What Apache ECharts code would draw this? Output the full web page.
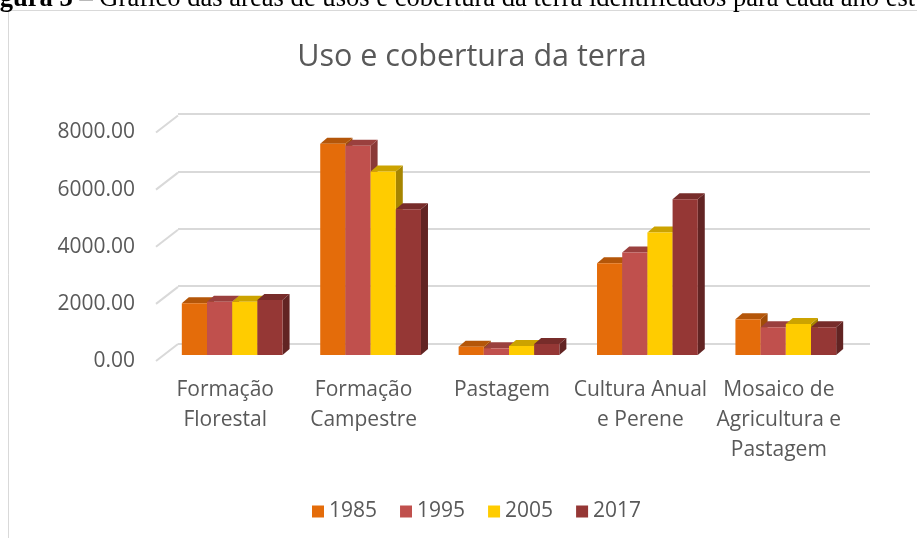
<!DOCTYPE html>
<html><head><meta charset="utf-8">
<script src="https://cdn.jsdelivr.net/npm/echarts@6/dist/echarts.min.js"></script>
<style>html,body{margin:0;padding:0;background:#fff}#c{width:917px;height:538px}</style>
</head><body><div id="c"></div>
<script>
const categories = ['Formação\nFlorestal', 'Formação\nCampestre', 'Pastagem', 'Cultura Anual\ne Perene', 'Mosaico de\nAgricultura e\nPastagem'];
const years = ['1985', '1995', '2005', '2017'];
const v1985 = [1808, 7378, 290, 3206, 1248];
const v1995 = [1864, 7308, 234, 3577, 969];
const v2005 = [1864, 6409, 315, 4276, 1084];
const v2017 = [1923, 5094, 385, 5444, 969];
const yTicks = [0, 2000, 4000, 6000, 8000];
const seriesValues = [v1985, v1995, v2005, v2017];

const frontC = ['#E46C0A', '#C0504D', '#FFCC00', '#953735'];
const topC = ['#B45609', '#9A403E', '#CCA300', '#772C2A'];
const sideC = ['#A04C08', '#8A3937', '#A68500', '#622423'];
const FONT = 'Open Sans';
const DX = 7, DY = 6;

const chart = echarts.init(document.getElementById('c'), null, {renderer: 'canvas'});

function barRenderer(si) {
  return function (params, api) {
    const idx = api.value(0), val = api.value(1);
    const top = api.coord([idx, val]);
    const base = api.coord([idx, 0]);
    const band = api.size([1, 0])[0];
    const bw = band * 0.182;
    const left = top[0] - 2 * bw + si * bw;
    const yT = top[1], y0 = base[1];
    return {
      type: 'group',
      children: [
        {type: 'polygon', shape: {points: [[left + bw, yT], [left + bw + DX, yT - DY], [left + bw + DX, y0 - DY], [left + bw, y0]]}, style: {fill: sideC[si]}},
        {type: 'polygon', shape: {points: [[left, yT], [left + DX, yT - DY], [left + bw + DX, yT - DY], [left + bw, yT]]}, style: {fill: topC[si]}},
        {type: 'rect', shape: {x: left, y: yT, width: bw, height: y0 - yT}, style: {fill: frontC[si]}}
      ]
    };
  };
}

const series = years.map((y, si) => ({
  name: y,
  type: 'custom',
  xAxisIndex: 0, yAxisIndex: 0,
  itemStyle: {color: frontC[si]},
  renderItem: barRenderer(si),
  encode: {x: 0, y: 1},
  data: seriesValues[si].map((v, i) => [i, v]),
  z: 5 + si
}));

series.push({
  type: 'custom',
  name: 'stubs',
  xAxisIndex: 2, yAxisIndex: 2,
  silent: true,
  renderItem: function (params, api) {
    const y = api.coord([0, api.value(1)])[1];
    const x = params.coordSys.x;
    return {type: 'line', shape: {x1: x, y1: y, x2: x + 22, y2: y - 17}, style: {stroke: '#d9d9d9', lineWidth: 2}};
  },
  encode: {x: 0, y: 1},
  data: yTicks.map(t => [0, t]),
  z: 1
});

const option = {
  animation: false,
  backgroundColor: '#fff',
  textStyle: {fontFamily: FONT},
  grid: [
    {left: 163, right: 62, top: 126, bottom: 183},
    {left: 178, right: 47, top: 114, bottom: 194.5},
    {left: 156, right: 69, top: 132.5, bottom: 177}
  ],
  xAxis: [
    {gridIndex: 0, type: 'category', data: categories, show: false},
    {gridIndex: 1, type: 'category', data: categories, show: false},
    {gridIndex: 2, type: 'category', data: categories,
      axisLine: {show: false}, axisTick: {show: false},
      axisLabel: {interval: 0, margin: 14, fontSize: 21, lineHeight: 30, color: '#595959', fontFamily: FONT}}
  ],
  yAxis: [
    {gridIndex: 0, type: 'value', min: 0, max: 8000, interval: 2000, show: false},
    {gridIndex: 1, type: 'value', min: 0, max: 8000, interval: 2000,
      axisLabel: {show: false}, axisLine: {show: false}, axisTick: {show: false},
      splitLine: {lineStyle: {color: '#d9d9d9', width: 2}}},
    {gridIndex: 2, type: 'value', min: 0, max: 8000, interval: 2000,
      axisLine: {show: false}, axisTick: {show: false}, splitLine: {show: false},
      axisLabel: {margin: 21, fontSize: 21, color: '#595959', fontFamily: FONT, formatter: v => v.toFixed(2)}}
  ],
  legend: {
    data: years, left: 307, top: 496, icon: 'rect', itemWidth: 12, itemHeight: 12, itemGap: 23,
    textStyle: {fontSize: 21, color: '#595959', fontFamily: FONT}
  },
  graphic: [
    {type: 'rect', shape: {x: 8.5, y: 10.5, width: 1000, height: 600}, style: {fill: 'none', stroke: '#d9d9d9', lineWidth: 1}, z: -1},
    {type: 'text', style: {x: 472, y: 42, text: 'Uso e cobertura da terra', font: '30.5px "Open Sans"', fill: '#595959', textAlign: 'center', textVerticalAlign: 'top'}},
    {type: 'text', style: {x: -24, y: 12.5, text: '{b|Figura 3} – Gráfico das áreas de usos e cobertura da terra identificados para cada ano estudado',
      font: '26.6px "Liberation Serif"', fill: '#000', textVerticalAlign: 'bottom',
      rich: {b: {fontWeight: 'bold', fontSize: 26.6, fontFamily: 'Liberation Serif'}}}}
  ],
  series: series
};
chart.setOption(option);
</script></body></html>
